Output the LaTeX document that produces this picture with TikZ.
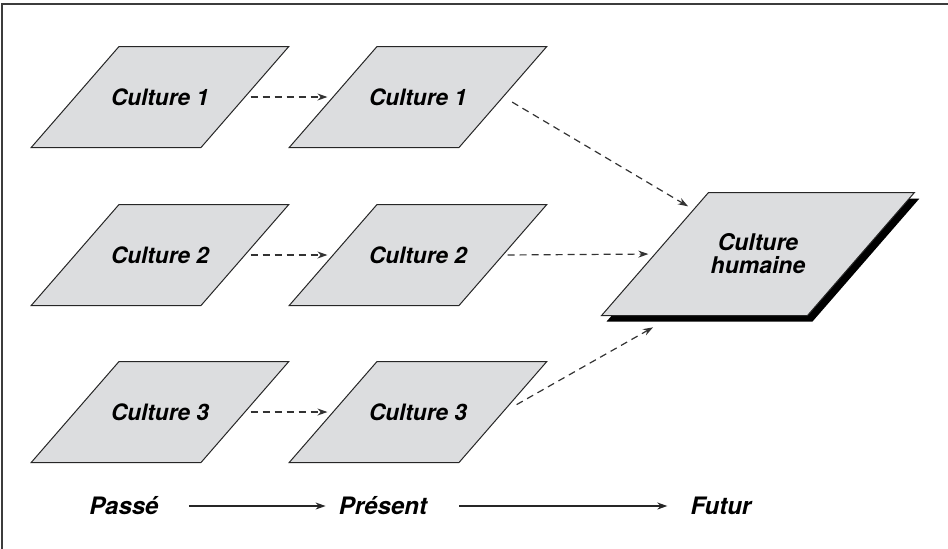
\documentclass[tikz,border=0pt]{standalone}
\usepackage{fontspec}
\setmainfont{TeX Gyre Heros}
\usetikzlibrary{shapes.geometric,arrows.meta,shadows,calc}
\definecolor{grisclair}{RGB}{220,221,223}
\definecolor{grisfonce}{RGB}{60,60,60}
\newcommand{\cultbox}[1]{\parbox[c][50.5pt][c]{41pt}{\centering\makebox[0pt]{#1}}}
\begin{document}
\begin{tikzpicture}[x=0.5pt,y=-0.5pt,
	culture/.style={trapezium,trapezium left angle=49,trapezium right angle=131,draw=black!85,line width=0.5pt,fill=grisclair,inner sep=0pt,minimum width=0pt,minimum height=0pt,font=\fontsize{11.3}{13}\selectfont\bfseries\itshape},
	fleche/.style={dash pattern=on 3.5pt off 2.5pt,black!80,line width=0.6pt,-{Stealth[length=5pt,width=3.5pt]}},
	temps/.style={font=\fontsize{12}{14}\selectfont\bfseries\itshape,inner sep=0pt},
	axe/.style={black!85,line width=0.6pt,-{Stealth[length=5pt,width=3.5pt]}}]
	\useasboundingbox (0,0) rectangle (948,548);
	\draw[grisfonce,line width=0.8pt] (2,560) |- (960,4);%Rahmen
	\node[culture] (c11) at (160,97) {\cultbox{Culture 1}};%Passé
	\node[culture] (c12) at (418,97) {\cultbox{Culture 1}};%Présent
	\node[culture] (c21) at (160,255) {\cultbox{Culture 2}};
	\node[culture] (c22) at (418,255) {\cultbox{Culture 2}};
	\node[culture] (c31) at (160,412) {\cultbox{Culture 3}};
	\node[culture] (c32) at (418,412) {\cultbox{Culture 3}};
	\node[culture,font=\fontsize{11.5}{11.5}\selectfont\bfseries\itshape,drop shadow={shadow xshift=2.5pt,shadow yshift=-3pt,fill=black,opacity=1}] (humaine) at (758,254) {\parbox[c][61.5pt][c]{49.5pt}{\centering Culture\\humaine}};%Futur
	\draw[fleche,shorten <=2.5pt,shorten >=2.5pt] (c11.east) -- (c12.west);
	\draw[fleche,shorten <=2.5pt,shorten >=2.5pt] (c21.east) -- (c22.west);
	\draw[fleche,shorten <=2.5pt,shorten >=2.5pt] (c31.east) -- (c32.west);
	\draw[fleche,shorten <=5pt,shorten >=3pt] (c12.east) -- ($(humaine.top left corner)!0.14!(humaine.bottom left corner)$);
	\draw[fleche,shorten <=2pt,shorten >=3pt] (c22.east) -- (humaine.west);
	\draw[fleche,shorten <=7.5pt,shorten >=11.5pt] (c32.east) -- ($(humaine.bottom left corner)!0.35!(humaine.bottom right corner)$);
	\node[temps] (passe) at (124,506) {Passé};
	\node[temps] (present) at (383,506) {Présent};
	\node[temps] (futur) at (721,506) {Futur};
	\draw[axe,shorten <=15pt,shorten >=6.5pt] (passe) -- (present);%Zeitachse
	\draw[axe,shorten <=16pt,shorten >=11.5pt] (present) -- (futur);
\end{tikzpicture}
\end{document}
